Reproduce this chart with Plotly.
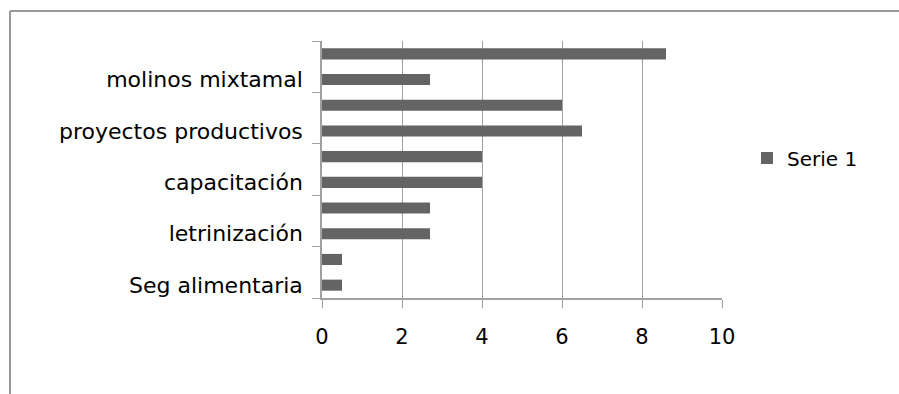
import plotly.graph_objects as go

# Data (bottom to top). Hidden categories are shown without label (as in the reference).
categories = ["Seg alimentaria", " ", "letrinización", "  ", "capacitación", "   ",
              "proyectos productivos", "    ", "molinos mixtamal", "     "]
values = [0.5, 0.5, 2.7, 2.7, 4.0, 4.0, 6.5, 6.0, 2.7, 8.6]
series_name = "Serie 1"
x_ticks = [0, 2, 4, 6, 8, 10]

FONT = "DejaVu Sans"
GRAY = "#a0a0a0"

fig = go.Figure()
fig.add_trace(go.Bar(
    x=values, y=categories, orientation="h", name=series_name,
    marker=dict(color="#646464", line=dict(width=0)), width=0.43,
    showlegend=True,
))

fig.update_layout(
    width=899, height=394,
    margin=dict(l=322, r=177, t=41, b=96),
    paper_bgcolor="white", plot_bgcolor="white",
    font=dict(family=FONT, size=22, color="#000000"),
    showlegend=True,
    legend=dict(x=1.0625, y=0.545, xanchor="left", yanchor="middle",
                font=dict(family=FONT, size=20), bgcolor="rgba(0,0,0,0)",
                itemwidth=30),
    xaxis=dict(range=[0, 10], tickvals=x_ticks, showgrid=True, gridcolor=GRAY, gridwidth=1,
               showline=True, linecolor=GRAY, linewidth=1.5, ticks="outside", ticklen=8,
               tickcolor=GRAY, zeroline=False, ticklabelstandoff=11,
               tickfont=dict(size=21)),
    yaxis=dict(type="category", categoryorder="array", categoryarray=categories,
               range=[-0.5, 9.5], showgrid=False, showline=True, linecolor=GRAY, linewidth=1.5,
               ticks="outside", ticklen=8, tickcolor=GRAY, tickson="boundaries",
               ticklabelstandoff=13),
    shapes=[
        dict(type="line", xref="paper", yref="paper", x0=-0.78, x1=1.5, y0=1.1167, y1=1.1167,
             line=dict(color="#999999", width=2), layer="below"),
        dict(type="line", xref="paper", yref="paper", x0=-0.78, x1=-0.78, y0=-1, y1=1.1167,
             line=dict(color="#999999", width=2), layer="below"),
    ],
)

fig.write_html("out.html", config={"displayModeBar": False})
